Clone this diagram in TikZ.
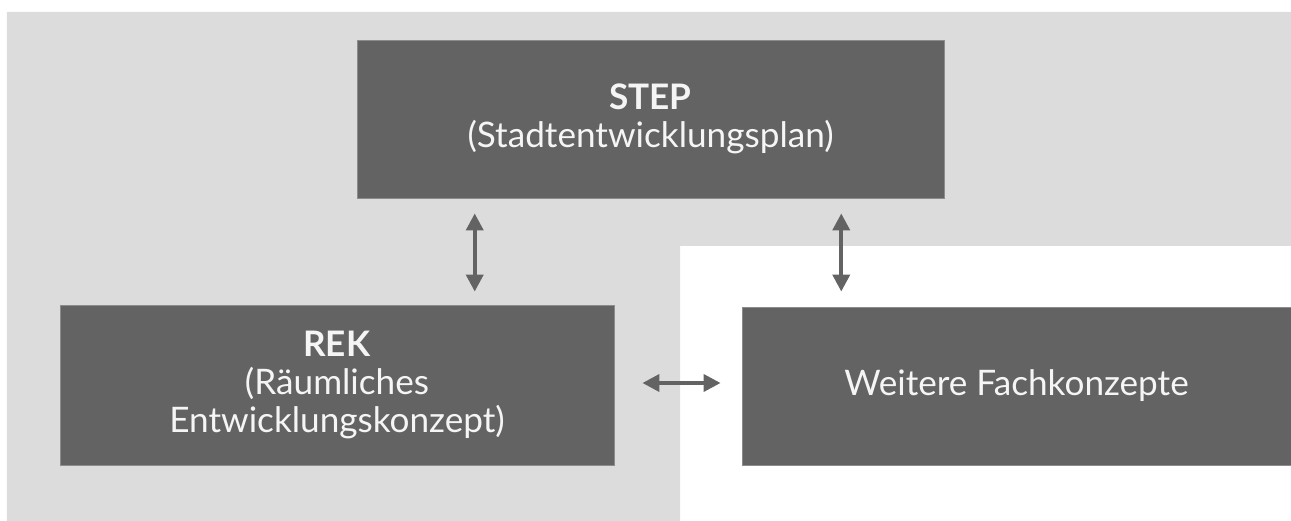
\documentclass[tikz,border=0pt]{standalone}
\usepackage{fontspec}
\setmainfont{Lato}
\definecolor{plbg}{RGB}{220,220,220}
\definecolor{plbox}{RGB}{99,99,99}
\definecolor{plrim}{RGB}{140,140,140}
\definecolor{pltext}{RGB}{245,245,245}
\usetikzlibrary{arrows.meta,positioning,calc}

\begin{document}
\begin{tikzpicture}[
    planbox/.style={rectangle, draw=plrim, line width=0.5pt, fill=plbox, align=center,
      text=pltext, font=\fontsize{20}{21.8}\selectfont},
    arr/.style={{Triangle[length=0.34cm, width=0.34cm]}-{Triangle[length=0.34cm, width=0.34cm]},
      line width=2.2pt, plbox}
  ]
    \useasboundingbox (0,0) rectangle (25.82,10.42);

    % Background
    \fill[plbg] (0.14,0) -- (0.14,10.18) -- (25.82,10.18) -- (25.82,5.5)
      -- (13.6,5.5) -- (13.6,0) -- cycle;

    % Boxes
    \node[planbox, minimum width=11.74cm, minimum height=3.16cm] (step) at (13.01, 8.04)
      {\textbf{STEP}\\(Stadtentwicklungsplan)};
    \node[planbox, minimum width=11.08cm, minimum height=3.2cm] (rek) at (6.74, 2.72)
      {\textbf{REK}\\(Räumliches\\Entwicklungskonzept)};
    \node[planbox, minimum width=10.98cm, minimum height=3.16cm] (fach) at (20.33, 2.70)
      {Weitere Fachkonzepte};

    % Arrows
    \coordinate (s1) at ($(step.south west)!0.201!(step.south east)$);
    \coordinate (s2) at ($(step.south west)!0.8245!(step.south east)$);
    \draw[arr, shorten <=0.3cm, shorten >=0.26cm] (s1) -- (s1 |- rek.north);
    \draw[arr, shorten <=0.3cm, shorten >=0.3cm] (s2) -- (s2 |- fach.north);
    \draw[arr, shorten <=0.56cm, shorten >=0.42cm] (rek.east |- 0,2.76) -- (fach.west |- 0,2.76);
  \end{tikzpicture}
\end{document}
